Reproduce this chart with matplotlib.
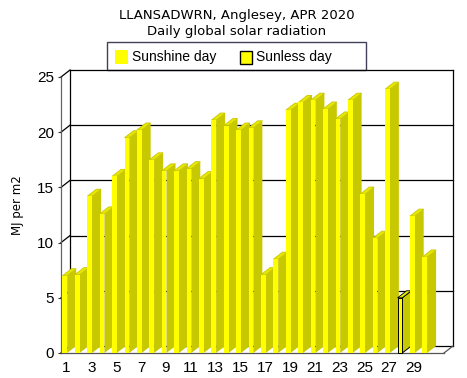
import matplotlib
matplotlib.use('Agg')
import matplotlib.pyplot as plt
from matplotlib.patches import Polygon, Rectangle

# ---------------- data ----------------
days = list(range(1, 31))
radiation = [7.0, 7.1, 14.2, 12.6, 16.0, 19.5, 20.2, 17.5, 16.5, 16.5,
             16.7, 15.8, 21.1, 20.6, 20.2, 20.4, 7.1, 8.5, 22.0, 22.7,
             22.9, 22.1, 21.2, 22.9, 14.4, 10.4, 23.9, 5.0, 12.4, 8.7]
sunless_days = [28]
y_ticks = [0, 5, 10, 15, 20, 25]
x_ticks = list(range(1, 30, 2))
title_line1 = "LLANSADWRN, Anglesey, APR 2020"
title_line2 = "Daily global solar radiation"
y_label = "MJ per m2"
legend_labels = ["Sunshine day", "Sunless day"]

# ---------------- style ----------------
YELLOW = '#FFFF00'
OLIVE = '#C8C800'
CAP = '#E8E800'
LINE = '#000000'

W, H = 467, 378
fig = plt.figure(figsize=(W / 100, H / 100), dpi=100)
fig.patch.set_facecolor('white')

# pixel geometry of the front plane
left_px, right_px, bottom_px, top_px = 61, 453, 353, 70
pitch = 12.41          # px per day
yscale = 11.04         # px per MJ
ax = fig.add_axes([left_px / W, (H - bottom_px) / H,
                   (right_px - left_px) / W, (bottom_px - top_px) / H])
ax.patch.set_visible(False)
a = 1 - 5.5 / pitch
xmax = a + (right_px - left_px) / pitch
ax.set_xlim(a, xmax)
ax.set_ylim(0, (bottom_px - top_px) / yscale)

dx = 9 / pitch
dy = 7 / yscale
bw = 4.7 / pitch
off = 4.0 / pitch
ymax = max(y_ticks)

# walls / grid
for v in y_ticks:
    ax.plot([a + dx, xmax], [v + dy, v + dy], color=LINE, lw=0.9, zorder=1, clip_on=False)
    ax.plot([a, a + dx], [v, v + dy], color=LINE, lw=0.9, zorder=1, clip_on=False)
ax.plot([a + dx, a + dx], [dy, ymax + dy], color=LINE, lw=0.9, zorder=1, clip_on=False)
ax.plot([xmax, xmax], [dy, ymax + dy], color=LINE, lw=0.9, zorder=1, clip_on=False)
ax.plot([a, a], [0, ymax], color='#666666', lw=0.9, zorder=1, clip_on=False)
ax.plot([a, xmax - dx], [0, 0], color='#555555', lw=0.9, zorder=1, clip_on=False)
ax.plot([xmax - dx, xmax], [0, dy], color='#555555', lw=0.9, zorder=1, clip_on=False)

# 3D bars
for d, v in zip(days, radiation):
    x0 = d - off
    sl = d in sunless_days
    ec = 'black' if sl else 'none'
    lw = 0.7 if sl else 0
    side = Polygon([(x0 + bw, 0), (x0 + bw + dx, dy), (x0 + bw + dx, v + dy), (x0 + bw, v)],
                   closed=True, facecolor=OLIVE, edgecolor=ec, lw=lw, zorder=3, clip_on=False)
    cap = Polygon([(x0, v), (x0 + bw, v), (x0 + bw + dx, v + dy), (x0 + dx, v + dy)],
                  closed=True, facecolor=CAP, edgecolor=OLIVE if not sl else 'black',
                  lw=0.6, zorder=3, clip_on=False)
    front = Rectangle((x0, 0), bw, v, facecolor=YELLOW, edgecolor=ec, lw=lw,
                      zorder=3, clip_on=False)
    ax.add_patch(side)
    ax.add_patch(cap)
    ax.add_patch(front)

for s in ax.spines.values():
    s.set_visible(False)

ax.set_yticks(y_ticks)
ax.set_yticklabels([str(t) for t in y_ticks], fontfamily='Liberation Sans', fontsize=11)
ax.tick_params(axis='y', length=2, width=0.8, color='#333333', pad=3)
ax.set_xticks(x_ticks)
ax.set_xticklabels([str(t) for t in x_ticks], fontfamily='Liberation Sans', fontsize=11)
ax.tick_params(axis='x', length=0, pad=6)

ax.set_ylabel(y_label, fontfamily='DejaVu Sans', fontsize=8.5)
ax.yaxis.set_label_coords((24 - left_px) / (right_px - left_px),
                          (bottom_px - 205) / (bottom_px - top_px))

# titles
fig.text(237 / W, 1 - 16 / H, title_line1, ha='center', va='center',
         fontfamily='DejaVu Sans', fontsize=9.5)
fig.text(237 / W, 1 - 32 / H, title_line2, ha='center', va='center',
         fontfamily='DejaVu Sans', fontsize=9.5)

# legend box
def px2fig(x, y):
    return x / W, 1 - y / H

lx0, ly0 = px2fig(106.5, 70)
fig.add_artist(Rectangle((lx0, ly0), (365.5 - 106.5) / W, (70 - 42.5) / H,
                         transform=fig.transFigure, facecolor='white',
                         edgecolor='#404058', lw=1.0, zorder=0))
sx, sy = px2fig(115, 63.7)
fig.add_artist(Rectangle((sx, sy), 13 / W, 13.4 / H, transform=fig.transFigure,
                         facecolor=YELLOW, edgecolor='none', zorder=2))
sx2, sy2 = px2fig(239.5, 63.5)
fig.add_artist(Rectangle((sx2, sy2), 12 / W, 12.5 / H, transform=fig.transFigure,
                         facecolor=YELLOW, edgecolor='black', lw=1.0, zorder=2))
tx, ty = px2fig(132, 57)
fig.text(tx, ty, legend_labels[0], ha='left', va='center',
         fontfamily='Liberation Sans', fontsize=10)
tx2, ty2 = px2fig(256.5, 57)
fig.text(tx2, ty2, legend_labels[1], ha='left', va='center',
         fontfamily='Liberation Sans', fontsize=10)

fig.savefig('out.png', dpi=100, facecolor='white')
